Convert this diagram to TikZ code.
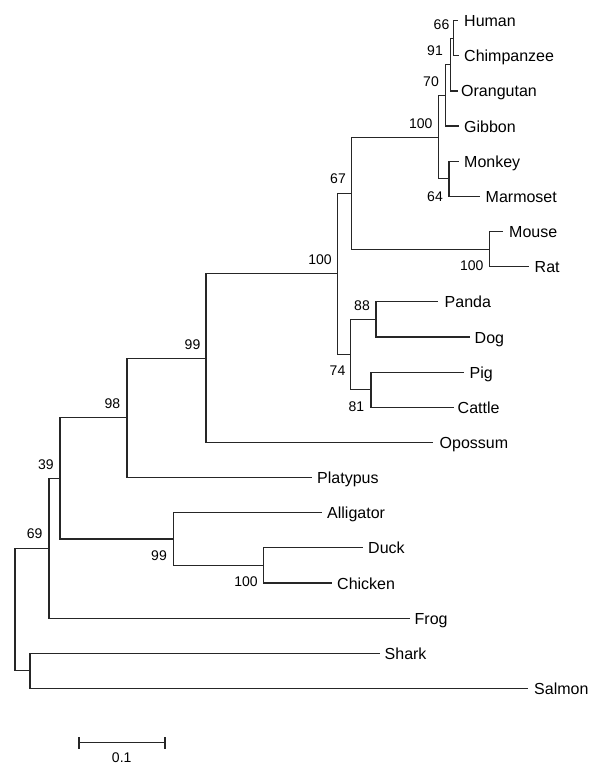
\documentclass[tikz,border=0pt]{standalone}
\usepackage{fontspec}
\setmainfont{Liberation Sans}
\begin{document}
\begin{tikzpicture}[x=1pt,y=-1pt,
  br/.style={line width=1.2pt,draw=black!85},
  leaf/.style={anchor=base west,inner sep=0pt,font=\fontsize{16}{19}\selectfont},
  boot/.style={anchor=base,inner sep=0pt,font=\fontsize{14}{16}\selectfont}]
\useasboundingbox (0,0) rectangle (592,765);
% leaf tips
\coordinate (tHuman) at (458.3,20.7);
\coordinate (tChimp) at (459.3,55.8);
\coordinate (tOrang) at (458.3,91.0);
\coordinate (tGibbon) at (459.3,126.1);
\coordinate (tMonkey) at (459.3,161.3);
\coordinate (tMarmoset) at (480,196.4);
\coordinate (tMouse) at (503.3,231.5);
\coordinate (tRat) at (529.3,266.7);
\coordinate (tPanda) at (438.3,301.8);
\coordinate (tDog) at (470,337.0);
\coordinate (tPig) at (464,372.1);
\coordinate (tCattle) at (453.5,407.2);
\coordinate (tOpossum) at (433.3,442.4);
\coordinate (tPlatypus) at (311.7,477.5);
\coordinate (tAlligator) at (321.7,512.7);
\coordinate (tDuck) at (363.3,547.8);
\coordinate (tChicken) at (331.7,583.0);
\coordinate (tFrog) at (410,618.1);
\coordinate (tShark) at (380,653.2);
\coordinate (tSalmon) at (528.3,688.4);
% leaf labels
\node[leaf] (lHuman) at (464,26.7) {Human};
\node[leaf] (lChimp) at (464,61.8) {Chimpanzee};
\node[leaf] (lOrang) at (461,97.0) {Orangutan};
\node[leaf] (lGibbon) at (464,132.1) {Gibbon};
\node[leaf] (lMonkey) at (464,167.3) {Monkey};
\node[leaf] (lMarmoset) at (485.5,202.4) {Marmoset};
\node[leaf] (lMouse) at (509,237.5) {Mouse};
\node[leaf] (lRat) at (534.5,272.7) {Rat};
\node[leaf] (lPanda) at (444.5,307.8) {Panda};
\node[leaf] (lDog) at (474.5,343.0) {Dog};
\node[leaf] (lPig) at (469.5,378.1) {Pig};
\node[leaf] (lCattle) at (457.5,413.2) {Cattle};
\node[leaf] (lOpossum) at (439.5,448.4) {Opossum};
\node[leaf] (lPlatypus) at (317,483.5) {Platypus};
\node[leaf] (lAlligator) at (327,518.7) {Alligator};
\node[leaf] (lDuck) at (368,553.8) {Duck};
\node[leaf] (lChicken) at (337,589.0) {Chicken};
\node[leaf] (lFrog) at (414.5,624.1) {Frog};
\node[leaf] (lShark) at (384.5,659.2) {Shark};
\node[leaf] (lSalmon) at (534,694.4) {Salmon};
% internal nodes
\coordinate (n66) at (453.3,38.25);
\coordinate (n91) at (450.7,64.6);
\coordinate (n70) at (445.7,95.4);
\coordinate (n64) at (449,178.85);
\coordinate (nPri) at (438.3,137.1);
\coordinate (nMR) at (489.3,249.1);
\coordinate (n67) at (351.7,193.1);
\coordinate (n88) at (376,319.4);
\coordinate (n81) at (371,389.65);
\coordinate (n74) at (350.7,354.5);
\coordinate (nEu) at (337.5,273.8);
\coordinate (n99a) at (206,358.1);
\coordinate (n98) at (127,417.8);
\coordinate (nDC) at (263.3,565.4);
\coordinate (n99b) at (173.3,539.05);
\coordinate (n39) at (60,478.4);
\coordinate (n69) at (49,548.25);
\coordinate (nSS) at (30,670.8);
\coordinate (root) at (15,609.5);
% branches
\draw[br] (n66) |- (tHuman);
\draw[br] (n66) |- (tChimp);
\draw[br] (n91) |- (n66);
\draw[br] (n91) |- (tOrang);
\draw[br] (n70) |- (n91);
\draw[br] (n70) |- (tGibbon);
\draw[br] (n64) |- (tMonkey);
\draw[br] (n64) |- (tMarmoset);
\draw[br] (nPri) |- (n70);
\draw[br] (nPri) |- (n64);
\draw[br] (nMR) |- (tMouse);
\draw[br] (nMR) |- (tRat);
\draw[br] (n67) |- (nPri);
\draw[br] (n67) |- (nMR);
\draw[br] (n88) |- (tPanda);
\draw[br] (n88) |- (tDog);
\draw[br] (n81) |- (tPig);
\draw[br] (n81) |- (tCattle);
\draw[br] (n74) |- (n88);
\draw[br] (n74) |- (n81);
\draw[br] (nEu) |- (n67);
\draw[br] (nEu) |- (n74);
\draw[br] (n99a) |- (nEu);
\draw[br] (n99a) |- (tOpossum);
\draw[br] (n98) |- (n99a);
\draw[br] (n98) |- (tPlatypus);
\draw[br] (nDC) |- (tDuck);
\draw[br] (nDC) |- (tChicken);
\draw[br] (n99b) |- (tAlligator);
\draw[br] (n99b) |- (nDC);
\draw[br] (n39) |- (n98);
\draw[br] (n39) |- (n99b);
\draw[br] (n69) |- (n39);
\draw[br] (n69) |- (tFrog);
\draw[br] (nSS) |- (tShark);
\draw[br] (nSS) |- (tSalmon);
\draw[br] (root) |- (n69);
\draw[br] (root) |- (nSS);
% bootstrap values
\node[boot] (b66) at (441.5,30) {66};
\node[boot] (b91) at (435,55.7) {91};
\node[boot] (b70) at (431,86.7) {70};
\node[boot] (bPri) at (420.7,128.3) {100};
\node[boot] (b64) at (435,201) {64};
\node[boot] (b67) at (338,183.3) {67};
\node[boot] (bEu) at (320,264.3) {100};
\node[boot] (bMR) at (471.7,270.7) {100};
\node[boot] (b88) at (362,310.7) {88};
\node[boot] (b74) at (337.5,375.7) {74};
\node[boot] (b81) at (356.3,411.7) {81};
\node[boot] (b99a) at (192.5,349) {99};
\node[boot] (b98) at (112.5,408) {98};
\node[boot] (b39) at (46,469) {39};
\node[boot] (b69) at (34.7,538.3) {69};
\node[boot] (b99b) at (159,560) {99};
\node[boot] (bDC) at (246,586) {100};
% scale bar
\coordinate (sL) at (79,742.7);
\coordinate (sR) at (165,742.7);
\draw[br] (sL) -- (sR);
\draw[br] ([yshift=-6pt]sL) -- ([yshift=5.6pt]sL);
\draw[br] ([yshift=-6pt]sR) -- ([yshift=5.6pt]sR);
\node[boot] (scale) at (121.7,762.5) {0.1};
\end{tikzpicture}
\end{document}
